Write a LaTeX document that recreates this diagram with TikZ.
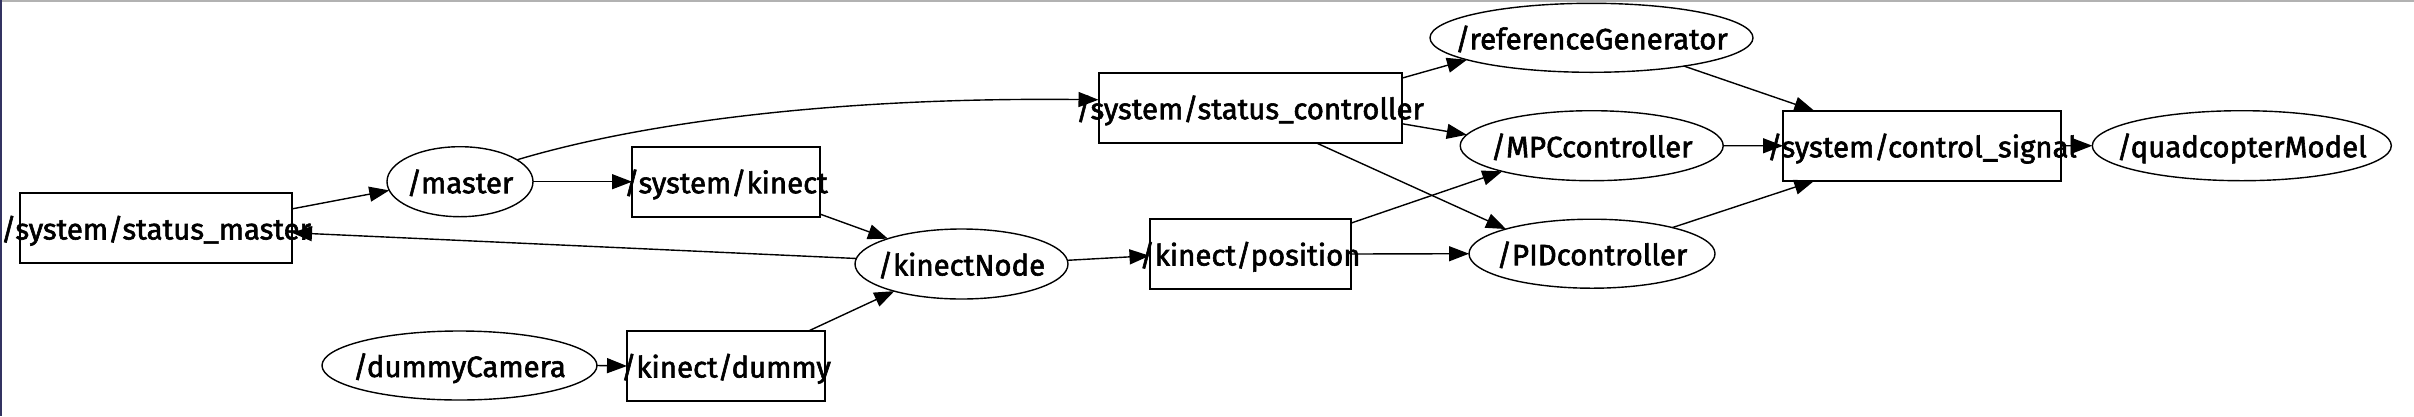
\documentclass[tikz,border=0pt]{standalone}
\usepackage{fontspec}
\setmainfont{Fira Sans}
\newfontfamily\lblfont{Fira Sans}[FakeBold=2]
\usetikzlibrary{shapes.geometric,arrows.meta}
\begin{document}
\begin{tikzpicture}[x=1pt,y=-1pt,
  topic/.style={draw,line width=2pt,rectangle,inner sep=0pt,outer sep=0pt},
  rosnode/.style={draw,line width=1.4pt,ellipse,inner sep=0pt,outer sep=0pt},
  lbl/.style={anchor=base,inner sep=0pt,font=\lblfont\fontsize{29.4}{30}\selectfont},
  edge/.style={line width=1.4pt,-{Triangle[length=20pt,width=15pt]}}]
\useasboundingbox (0,0) rectangle (2414,416);
\fill[white] (0,0) rectangle (2414,416);
\fill[black!30] (0,0) rectangle (2414,2);
\fill[black!70!blue!60!gray] (0,0) rectangle (2,416);
% nodes
\node[topic,minimum width=272pt,minimum height=70pt] (sm) at (156,228) {};
\node[rosnode,minimum width=146pt,minimum height=70pt] (master) at (460,181.7) {};
\node[topic,minimum width=188pt,minimum height=70pt] (sk) at (726,181.7) {};
\node[rosnode,minimum width=213pt,minimum height=70pt] (kn) at (961.5,264) {};
\node[rosnode,minimum width=275pt,minimum height=69pt] (dc) at (459.5,365.5) {};
\node[topic,minimum width=198pt,minimum height=70pt] (kd) at (726,366) {};
\node[topic,minimum width=201pt,minimum height=70pt] (kp) at (1250,254) {};
\node[topic,minimum width=303pt,minimum height=70pt] (sc) at (1250,107.7) {};
\node[rosnode,minimum width=323pt,minimum height=69pt] (ref) at (1591.5,37.8) {};
\node[rosnode,minimum width=263pt,minimum height=70pt] (mpc) at (1591.7,145.7) {};
\node[rosnode,minimum width=246pt,minimum height=69pt] (pid) at (1592,253.7) {};
\node[topic,minimum width=278pt,minimum height=70pt] (cs) at (1922,145.8) {};
\node[rosnode,minimum width=299pt,minimum height=70pt] (quad) at (2241.8,145.7) {};
% labels
\node[lbl] (tsm) at (156,239.5) {/system/status\_master};
\node[lbl] (tmaster) at (460,193.2) {/master};
\node[lbl] (tsk) at (726,193.2) {/system/kinect};
\node[lbl] (tkn) at (961.5,275.5) {/kinectNode};
\node[lbl] (tdc) at (459.5,377) {/dummyCamera};
\node[lbl] (tkd) at (726,377.5) {/kinect/dummy};
\node[lbl] (tkp) at (1250,265.5) {/kinect/position};
\node[lbl] (tsc) at (1250,119.2) {/system/status\_controller};
\node[lbl] (tref) at (1591.5,49.3) {/referenceGenerator};
\node[lbl] (tmpc) at (1591.7,157.2) {/MPCcontroller};
\node[lbl] (tpid) at (1592,265.2) {/PIDcontroller};
\node[lbl] (tcs) at (1922,157.3) {/system/control\_signal};
\node[lbl] (tquad) at (2241.8,157.2) {/quadcopterModel};
% edges
\draw[edge] (sm.8.8) -- (master.187.1);
\draw[edge] (master.east) -- (sk.west);
\draw[edge] (master.21.4) .. controls (650,120) and (850,97) .. (sc.177.1);
\draw[edge] (sk.-19.4) -- (kn.161);
\draw[edge] (kn.177.3) -- (sm.-2.1);
\draw[edge] (kn.2.2) -- (kp.181.5);
\draw[edge] (dc.east) -- (kd.west);
\draw[edge] (kd.23.2) -- (kn.202.6);
\draw[edge] (sc.11.9) -- (ref.190.6);
\draw[edge] (sc.-6.5) -- (mpc.175);
\draw[edge] (sc.-28.7) -- (pid.164.5);
\draw[edge] (kp.17.9) -- (mpc.196.7);
\draw[edge] (kp.east) -- (pid.west);
\draw[edge] (ref.-17.5) -- (cs.162);
\draw[edge] (mpc.east) -- (cs.west);
\draw[edge] (pid.18) -- (cs.198);
\draw[edge] (cs.east) -- (quad.west);
\end{tikzpicture}
\end{document}
